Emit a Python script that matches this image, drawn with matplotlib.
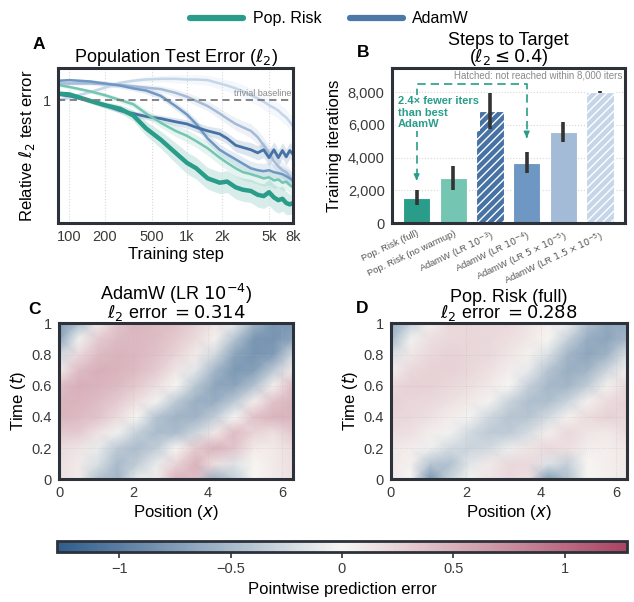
import numpy as np
import matplotlib
matplotlib.use("Agg")
from matplotlib import pyplot as plt
from matplotlib.colors import LinearSegmentedColormap
from matplotlib.lines import Line2D

plt.rcParams['font.family'] = ['Liberation Sans', 'DejaVu Sans']
plt.rcParams['hatch.linewidth'] = 1.0

### panel A: test error curves
steps = [80, 100, 150, 200, 270, 350, 450, 600, 800, 1000, 1200, 1500, 1900, 2200,
         2600, 3000, 3500, 4000, 4500, 5000, 5500, 6000, 6500, 7000, 7500, 8000]

pr_full = [1.08, 1.07, 0.99, 0.94, 0.90, 0.83, 0.71, 0.62, 0.53, 0.47, 0.44, 0.39, 0.37,
           0.375, 0.35, 0.34, 0.335, 0.32, 0.315, 0.33, 0.31, 0.30, 0.305, 0.29, 0.285, 0.29]
pr_nowarm = [1.20, 1.17, 1.11, 1.06, 1.00, 0.95, 0.85, 0.76, 0.69, 0.65, 0.61, 0.56, 0.50,
             0.47, 0.44, 0.42, 0.41, 0.40, 0.39, 0.395, 0.38, 0.385, 0.37, 0.375, 0.36, 0.35]
adam_1e3 = [1.07, 1.05, 0.99, 0.94, 0.88, 0.85, 0.82, 0.80, 0.77, 0.75, 0.72, 0.69, 0.665,
            0.63, 0.58, 0.565, 0.55, 0.53, 0.55, 0.50, 0.55, 0.50, 0.545, 0.505, 0.545, 0.52]
adam_1e4 = [1.26, 1.27, 1.25, 1.22, 1.19, 1.15, 1.12, 1.05, 0.93, 0.84, 0.75, 0.63, 0.55,
            0.52, 0.49, 0.465, 0.44, 0.43, 0.425, 0.43, 0.42, 0.415, 0.41, 0.40, 0.39, 0.38]
adam_5e5 = [1.22, 1.22, 1.22, 1.21, 1.20, 1.18, 1.16, 1.14, 1.09, 1.04, 0.99, 0.93, 0.85,
            0.80, 0.75, 0.72, 0.69, 0.64, 0.58, 0.53, 0.48, 0.45, 0.43, 0.42, 0.40, 0.37]
adam_15e6 = [1.00, 1.03, 1.10, 1.16, 1.23, 1.26, 1.28, 1.29, 1.29, 1.28, 1.28, 1.27, 1.22,
             1.19, 1.15, 1.11, 1.06, 1.02, 0.98, 0.94, 0.91, 0.88, 0.84, 0.81, 0.77, 0.73]

# relative half-width of the seed bands
pr_full_spread = [0.02, 0.02, 0.03, 0.04, 0.05, 0.07, 0.09, 0.11, 0.13, 0.14, 0.14, 0.14, 0.14,
                  0.14, 0.15, 0.15, 0.15, 0.16, 0.16, 0.17, 0.17, 0.17, 0.16, 0.15, 0.13, 0.12]
pr_nowarm_spread = [0.02, 0.02, 0.02, 0.03, 0.03, 0.04, 0.05, 0.06, 0.07, 0.08, 0.08, 0.09, 0.09,
                    0.09, 0.10, 0.10, 0.10, 0.10, 0.10, 0.10, 0.10, 0.10, 0.10, 0.10, 0.10, 0.10]
adam_spread = [0.02, 0.02, 0.02, 0.03, 0.03, 0.03, 0.04, 0.04, 0.05, 0.05, 0.06, 0.06, 0.07,
               0.07, 0.08, 0.08, 0.09, 0.09, 0.10, 0.10, 0.10, 0.10, 0.10, 0.10, 0.10, 0.10]

xticks_A = [100, 200, 500, 1000, 2000, 5000, 8000]
xticklabels_A = ['100', '200', '500', '1k', '2k', '5k', '8k']

### panel B: steps to target
bar_labels = ['Pop. Risk (full)', 'Pop. Risk (no warmup)', 'AdamW (LR $10^{-3}$)',
              'AdamW (LR $10^{-4}$)', 'AdamW (LR $5\\times10^{-5}$)', 'AdamW (LR $1.5\\times10^{-5}$)']
bar_vals = [1550, 2750, 6850, 3700, 5550, 8000]
bar_err = [450, 750, 1120, 650, 600, 40]
bar_hatched = [False, False, True, False, False, True]

### panels C, D: pointwise error, rows t = 0 .. 1, cols x = 0 .. 2pi
err_adamw = [
    [0.16, 0.08, -0.45, -0.55, -0.09, 0.08, 0.47, 0.40, -0.59, -0.34, 0.0, 0.08, 0.16],
    [0.16, 0.08, -0.20, -0.50, -0.34, -0.09, 0.24, 0.47, 0.16, -0.16, 0.0, 0.08, 0.16],
    [0.19, 0.12, -0.09, -0.38, -0.48, -0.34, 0.0, 0.31, 0.47, 0.35, 0.08, 0.08, 0.19],
    [0.32, 0.30, 0.14, -0.05, -0.33, -0.49, -0.49, -0.28, 0.10, 0.40, 0.24, 0.16, 0.32],
    [0.46, 0.42, 0.35, 0.19, -0.01, -0.43, -0.56, -0.56, -0.35, 0.0, 0.37, 0.47, 0.46],
    [0.47, 0.46, 0.40, 0.30, 0.16, -0.04, -0.38, -0.59, -0.61, -0.38, 0.06, 0.36, 0.47],
    [0.40, 0.50, 0.47, 0.42, 0.31, 0.17, 0.0, -0.40, -0.68, -0.69, -0.44, 0.05, 0.40],
    [0.08, 0.40, 0.50, 0.47, 0.41, 0.30, 0.12, -0.14, -0.54, -0.78, -0.73, -0.38, 0.08],
    [-0.25, 0.20, 0.41, 0.47, 0.43, 0.37, 0.24, 0.08, -0.25, -0.69, -0.82, -0.76, -0.25],
    [-0.69, -0.05, 0.30, 0.42, 0.43, 0.40, 0.31, 0.19, 0.04, -0.43, -0.80, -0.82, -0.69],
    [-0.80, -0.48, 0.08, 0.35, 0.46, 0.42, 0.37, 0.26, 0.12, -0.09, -0.56, -0.80, -0.80],
]
err_poprisk = [
    [0.09, 0.0, -0.80, -0.30, -0.04, 0.12, 0.20, 0.16, -0.75, -0.45, 0.0, 0.05, 0.09],
    [0.09, 0.04, -0.41, -0.45, -0.13, 0.09, 0.20, 0.20, -0.17, -0.32, 0.0, 0.05, 0.09],
    [0.10, 0.06, -0.06, -0.24, -0.29, -0.24, -0.08, 0.12, 0.20, 0.16, 0.06, 0.05, 0.10],
    [0.18, 0.15, 0.06, -0.05, -0.24, -0.37, -0.37, -0.22, 0.05, 0.20, 0.12, 0.09, 0.18],
    [0.22, 0.20, 0.15, 0.06, -0.04, -0.26, -0.41, -0.41, -0.24, 0.04, 0.18, 0.25, 0.22],
    [0.25, 0.22, 0.20, 0.15, 0.09, -0.04, -0.29, -0.46, -0.47, -0.29, 0.04, 0.18, 0.25],
    [0.20, 0.26, 0.25, 0.21, 0.16, 0.09, 0.0, -0.32, -0.52, -0.54, -0.34, 0.04, 0.20],
    [0.06, 0.20, 0.25, 0.25, 0.21, 0.15, 0.06, -0.10, -0.42, -0.60, -0.55, -0.28, 0.06],
    [-0.19, 0.11, 0.21, 0.25, 0.22, 0.20, 0.12, 0.04, -0.19, -0.54, -0.68, -0.56, -0.19],
    [-0.52, -0.05, 0.16, 0.21, 0.22, 0.20, 0.16, 0.10, 0.0, -0.32, -0.61, -0.68, -0.52],
    [-0.65, -0.32, 0.05, 0.20, 0.22, 0.21, 0.20, 0.12, 0.05, -0.08, -0.46, -0.65, -0.65],
]

# colours
teal = '#2a9d8a'
teal_light = '#74c6b2'
blue_1e3 = '#4672a4'
blue_1e4 = '#6f97c3'
blue_5e5 = '#a3bbd7'
blue_15e6 = '#c6d6e9'
frame = '#2c313a'
tickc = '#3a3a3a'

fig = plt.figure(figsize=(6.34, 6.02), dpi=100)


def style_frame(ax):
    for s in ax.spines.values():
        s.set_color(frame)
        s.set_linewidth(2.2)
    ax.tick_params(length=0, labelsize=10.5, labelcolor=tickc, pad=5)


### A
axA = fig.add_axes([0.0915, 0.6296, 0.3707, 0.2575])
curves = [(adam_15e6, adam_spread, blue_15e6, 1.8),
          (adam_5e5, adam_spread, blue_5e5, 1.8),
          (adam_1e4, adam_spread, blue_1e4, 1.8),
          (adam_1e3, adam_spread, blue_1e3, 2.0),
          (pr_nowarm, pr_nowarm_spread, teal_light, 1.8),
          (pr_full, pr_full_spread, teal, 3.2)]
for vals, spr, col, lw in curves:
    v = np.array(vals)
    s = np.array(spr)
    axA.fill_between(steps, v / (1 + s), v * (1 + s), color=col, alpha=0.18, lw=0)
for vals, spr, col, lw in curves:
    axA.plot(steps, vals, color=col, lw=lw, solid_capstyle='round')
axA.axhline(1.0, color='#7a7a7a', lw=1.3, ls=(0, (4, 2.5)))
axA.text(7800, 1.03, 'trivial baseline', fontsize=6.5, color='#8a8a8a', ha='right', va='bottom')
axA.set_xscale('log')
axA.set_yscale('log')
axA.set_xlim(80, 8000)
axA.set_ylim(0.228, 1.47)
axA.set_xticks(xticks_A)
axA.set_xticklabels(xticklabels_A)
axA.xaxis.set_minor_locator(plt.NullLocator())
axA.set_yticks([1])
axA.set_yticklabels(['1'])
axA.yaxis.set_minor_locator(plt.NullLocator())
axA.grid(axis='x', color='#d8d8d8', ls=':', lw=0.8)
style_frame(axA)
axA.set_xlabel('Training step', fontsize=12, labelpad=2)
axA.set_ylabel('Relative $\\ell_2$ test error', fontsize=12)
axA.set_title('Population Test Error ($\\ell_2$)', fontsize=13, pad=3)
fig.text(0.052, 0.918, 'A', fontsize=12.5, fontweight='bold')

### B
axB = fig.add_axes([0.6178, 0.6291, 0.368, 0.2575])
bar_cols = [teal, teal_light, blue_1e3, blue_1e4, blue_5e5, blue_15e6]
xpos = np.arange(len(bar_vals))
for i in range(len(bar_vals)):
    axB.bar(xpos[i], bar_vals[i], width=0.75, color=bar_cols[i], edgecolor='white',
            linewidth=0.8, hatch='////' if bar_hatched[i] else None, zorder=2)
axB.errorbar(xpos, bar_vals, yerr=bar_err, fmt='none', ecolor='#333333', elinewidth=2.6,
             capsize=0, zorder=3)
axB.set_xlim(-0.68, 5.68)
axB.set_ylim(0, 9450)
axB.set_yticks([0, 2000, 4000, 6000, 8000])
axB.set_yticklabels(['0', '2,000', '4,000', '6,000', '8,000'])
axB.grid(axis='y', color='#d8d8d8', ls=':', lw=0.8, zorder=0)
style_frame(axB)
axB.set_xticks(xpos)
axB.set_xticklabels(bar_labels, rotation=25, ha='right', rotation_mode='anchor',
                    fontsize=6.8, color='#555555')
axB.tick_params(axis='x', pad=4)
axB.set_ylabel('Training iterations', fontsize=12)
axB.set_title('Steps to Target\n($\\ell_2 \\leq 0.4$)', fontsize=13, pad=3, linespacing=0.9)
axB.text(5.6, 9020, 'Hatched: not reached within 8,000 iters', fontsize=7,
         color='#8a8a8a', ha='right', va='center')
# speed-up bracket
axB.plot([0, 0, 3, 3], [2800, 8480, 8480, 5350], color=teal, lw=1.2, ls=(0, (5, 3)), zorder=4)
axB.annotate('', xy=(0, 2450), xytext=(0, 2900),
             arrowprops=dict(arrowstyle='-|>', color=teal, lw=1.2, mutation_scale=8), zorder=4)
axB.annotate('', xy=(3, 5050), xytext=(3, 5450),
             arrowprops=dict(arrowstyle='-|>', color=teal, lw=1.2, mutation_scale=8), zorder=4)
axB.text(-0.52, 7750, '2.4\u00d7 fewer iters\nthan best\nAdamW', fontsize=8, fontweight='bold',
         color=teal, ha='left', va='top', linespacing=1.2, zorder=5,
         bbox=dict(facecolor='white', edgecolor='none', pad=1.0))
fig.text(0.563, 0.905, 'B', fontsize=12.5, fontweight='bold')

### C, D
cmap = LinearSegmentedColormap.from_list('err', ['#2f5d8c', '#f7f6f3', '#a94463'])
xg = np.linspace(0, 2 * np.pi, 13)
tg = np.linspace(0, 1, 11)


def heat(rect, field, title, letter, lx, ly):
    ax = fig.add_axes(rect)
    m = ax.pcolormesh(xg, tg, np.array(field), shading='gouraud', cmap=cmap,
                      vmin=-1.28, vmax=1.28, rasterized=True)
    ax.set_xlim(0, 2 * np.pi)
    ax.set_ylim(0, 1)
    ax.set_xticks([0, 2, 4, 6])
    ax.set_yticks([0, 0.2, 0.4, 0.6, 0.8, 1.0])
    ax.set_yticklabels(['0', '0.2', '0.4', '0.6', '0.8', '1'])
    ax.grid(color='#bbbbbb', ls=':', lw=0.6, alpha=0.5)
    style_frame(ax)
    ax.set_xlabel('Position ($x$)', fontsize=12, labelpad=2)
    ax.set_ylabel('Time ($t$)', fontsize=12, labelpad=3)
    ax.set_title(title, fontsize=13, pad=3, linespacing=0.85)
    fig.text(lx, ly, letter, fontsize=12.5, fontweight='bold')
    return m


heat([0.0931, 0.2038, 0.369, 0.2591], err_adamw,
     'AdamW (LR $10^{-4}$)\n$\\ell_2$ error $=0.314$', 'C', 0.045, 0.478)
mD = heat([0.6167, 0.2038, 0.3718, 0.2591], err_poprisk,
          'Pop. Risk (full)\n$\\ell_2$ error $=0.288$', 'D', 0.562, 0.48)

cax = fig.add_axes([0.0899, 0.0831, 0.899, 0.0183])
cb = fig.colorbar(mD, cax=cax, orientation='horizontal')
cb.set_ticks([-1, -0.5, 0, 0.5, 1])
cb.set_ticklabels(['\u22121', '\u22120.5', '0', '0.5', '1'])
cb.outline.set_color(frame)
cb.outline.set_linewidth(2.0)
cax.tick_params(length=4, width=1.2, color=frame, labelsize=10.5, labelcolor=tickc)
cb.set_label('Pointwise prediction error', fontsize=12)

# legend on top
handles = [Line2D([], [], color=teal, lw=4.5, solid_capstyle='round'),
           Line2D([], [], color='#4c78a8', lw=4.5, solid_capstyle='round')]
fig.legend(handles, ['Pop. Risk', 'AdamW'], loc='upper center', bbox_to_anchor=(0.52, 1.005),
           ncol=2, frameon=False, fontsize=11.5, handlelength=3.3, columnspacing=1.8,
           handletextpad=0.6)

fig.savefig('out.png', dpi=100)
